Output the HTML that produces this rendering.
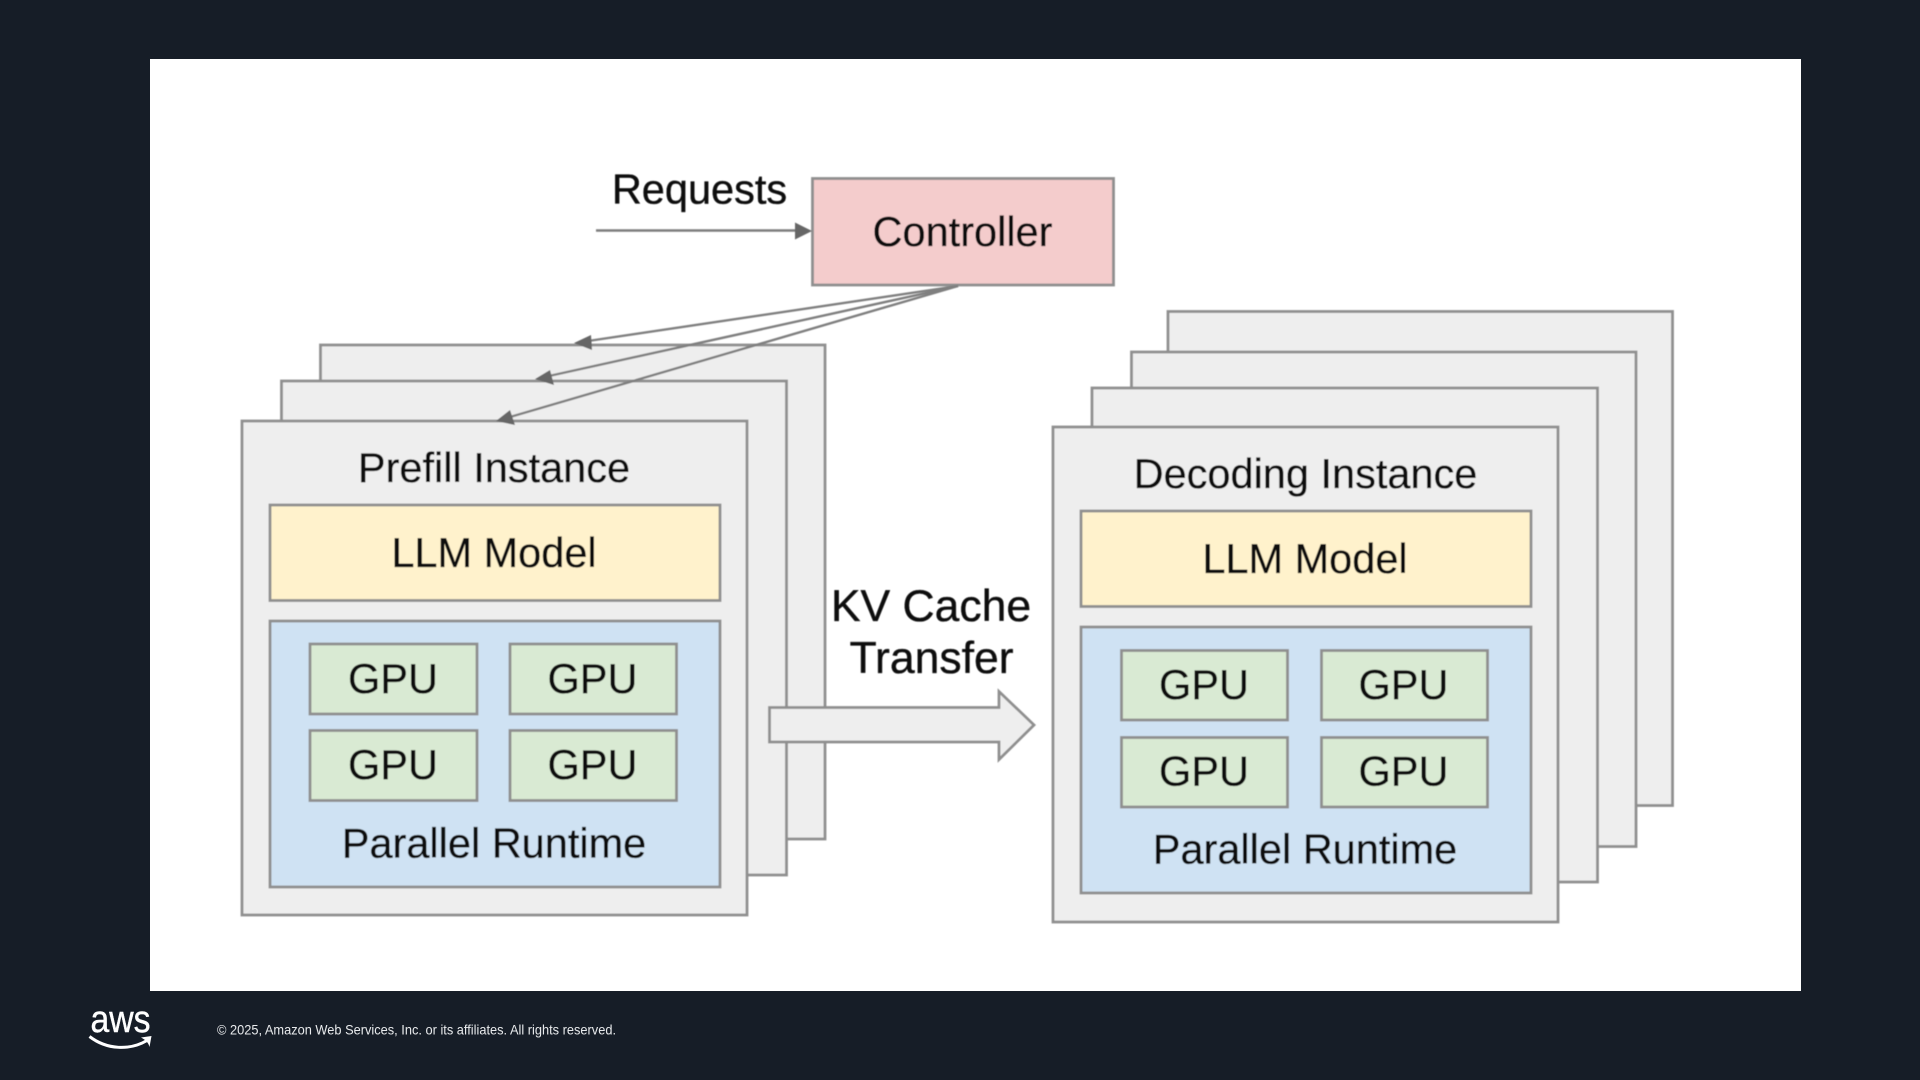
<!DOCTYPE html>
<html lang="en">
<head>
<meta charset="utf-8">
<title>Prefill and Decoding Instances</title>
<style>
html,body{margin:0;padding:0;width:1920px;height:1080px;overflow:hidden;background:#161d27;}
svg{display:block;position:absolute;left:0;top:0;}
text{font-family:"Liberation Sans",Arial,sans-serif;}
.d text{font-size:41.500px;fill:#0a0a0a;stroke:#0a0a0a;stroke-width:0.350;text-anchor:middle;}
.d text.big{font-size:44.500px;}
.box rect,.box path{stroke:#8f8f8f;stroke-width:2.800;}
.g{fill:#eeeeee;}
.y{fill:#fff2cc;}
.b{fill:#cfe2f3;}
.n{fill:#d9ead3;}
</style>
</head>
<body>
<svg width="1920" height="1080" viewBox="0 0 1920 1080" xmlns="http://www.w3.org/2000/svg">
  <defs>
    <filter id="soft" filterUnits="userSpaceOnUse" x="0" y="0" width="1920" height="1080"><feGaussianBlur stdDeviation="0.6"/></filter>
  </defs>
  <rect x="0" y="0" width="1920" height="1080" fill="#161d27"/>
  <rect x="150" y="59" width="1651" height="932" fill="#ffffff"/>

  <g class="d" filter="url(#soft)">
    <!-- Prefill stack -->
    <g class="box">
      <rect class="g" x="320.500" y="345" width="504.500" height="494"/>
      <rect class="g" x="281.500" y="381" width="505" height="494"/>
      <rect class="g" x="242" y="421" width="505" height="494"/>
      <rect class="y" x="270" y="505" width="450" height="95.500"/>
      <rect class="b" x="270" y="621" width="450" height="266"/>
      <rect class="n" x="310" y="644" width="167" height="70"/>
      <rect class="n" x="510" y="644" width="166.500" height="70"/>
      <rect class="n" x="310" y="730.500" width="167" height="70"/>
      <rect class="n" x="510" y="730.500" width="166.500" height="70"/>
    </g>
    <text x="494" y="482">Prefill Instance</text>
    <text x="494" y="567">LLM Model</text>
    <text x="393" y="693">GPU</text>
    <text x="592.500" y="693">GPU</text>
    <text x="393" y="779">GPU</text>
    <text x="592.500" y="779">GPU</text>
    <text x="494" y="857.500">Parallel Runtime</text>

    <!-- Decoding stack -->
    <g class="box">
      <rect class="g" x="1168" y="311.500" width="504.500" height="494"/>
      <rect class="g" x="1131.500" y="352" width="504.500" height="494.500"/>
      <rect class="g" x="1092" y="388" width="505.500" height="494"/>
      <rect class="g" x="1053" y="427" width="505" height="495"/>
      <rect class="y" x="1081" y="511" width="450" height="95.500"/>
      <rect class="b" x="1081" y="627" width="450" height="266"/>
      <rect class="n" x="1121.500" y="650.500" width="166" height="69.500"/>
      <rect class="n" x="1321.500" y="650.500" width="166" height="69.500"/>
      <rect class="n" x="1121.500" y="737.500" width="166" height="69.500"/>
      <rect class="n" x="1321.500" y="737.500" width="166" height="69.500"/>
    </g>
    <text x="1305.500" y="488">Decoding Instance</text>
    <text x="1305" y="573">LLM Model</text>
    <text x="1204" y="699">GPU</text>
    <text x="1403.500" y="699">GPU</text>
    <text x="1204" y="785.500">GPU</text>
    <text x="1403.500" y="785.500">GPU</text>
    <text x="1305" y="863.500">Parallel Runtime</text>

    <!-- Transfer arrow -->
    <g class="box">
      <path class="g" d="M769.500 707.500H999V691.500L1034 725L999 759.500V742H769.500Z"/>
    </g>
    <text class="big" x="931" y="621">KV Cache</text>
    <text class="big" x="931.500" y="673">Transfer</text>

    <!-- Controller -->
    <g class="box">
      <rect fill="#f4cccc" x="812.500" y="178.500" width="301" height="106.500"/>
    </g>
    <text x="962.500" y="246">Controller</text>
    <text x="699.500" y="203.500">Requests</text>

    <!-- Request arrow -->
    <line x1="596" y1="230.500" x2="797" y2="230.500" stroke="#7d7d7d" stroke-width="2.500"/>
    <path d="M795 222.500L812 231L795 239.500Z" fill="#666666"/>

    <!-- Dispatch arrows -->
    <g stroke="#7f7f7f" stroke-width="2.400" fill="none">
      <line x1="958" y1="286" x2="588" y2="341"/>
      <line x1="958" y1="286" x2="549" y2="376"/>
      <line x1="958" y1="286" x2="510" y2="417"/>
    </g>
    <g fill="#666666">
      <path d="M574 343L591 335L592 350Z"/>
      <path d="M535 379L550 370L554 385Z"/>
      <path d="M496 421L510 410L515 425Z"/>
    </g>
  </g>

  <!-- Footer -->
  <text x="90.500" y="1032" font-size="38" fill="#ffffff" stroke="#ffffff" stroke-width="0.400" textLength="60" lengthAdjust="spacingAndGlyphs">aws</text>
  <path d="M89.500 1036.500C107 1050 130 1050.500 147 1040.500" fill="none" stroke="#ffffff" stroke-width="3"/>
  <path d="M141 1037.500L151.500 1036L149.500 1047C148.500 1043 146 1040 141 1037.500Z" fill="#ffffff"/>
  <text x="217" y="1034.500" font-size="14" fill="#e8eaec" textLength="399" lengthAdjust="spacingAndGlyphs">© 2025, Amazon Web Services, Inc. or its affiliates. All rights reserved.</text>
</svg>
</body>
</html>
